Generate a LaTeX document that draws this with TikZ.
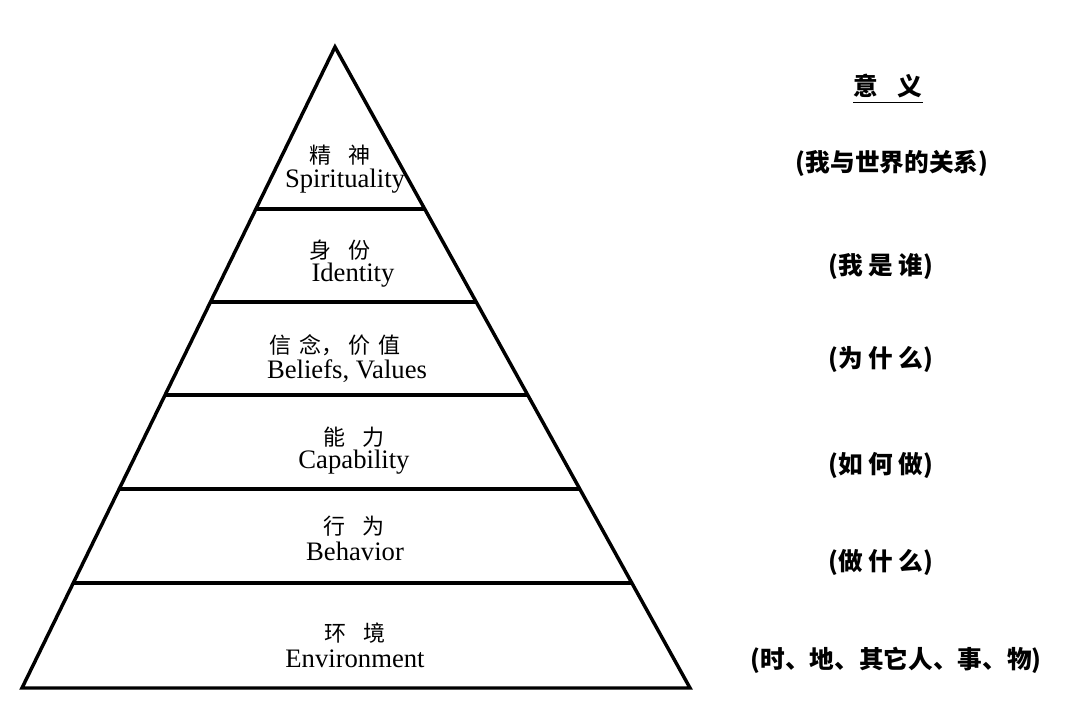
\documentclass[tikz,border=0pt]{standalone}
\usepackage{fontspec}
\setmainfont{Liberation Serif}
\newfontfamily\cjk{Noto Sans CJK SC}
\usetikzlibrary{calc}
\newcommand{\cjkgap}{\hspace{0.75em}}
\tikzset{
  pyrline/.style={line width=2.6pt, black, line join=miter},
  cnlabel/.style={inner sep=0pt, font=\cjk\fontsize{16.5}{16.5}\selectfont},
  enlabel/.style={inner sep=0pt, font=\fontsize{20}{20}\selectfont},
  meaning/.style={inner sep=0pt, font=\cjk\bfseries\fontsize{18.5}{18.5}\selectfont},
}

\begin{document}
\begin{tikzpicture}[x=0.75pt,y=-0.75pt]
\useasboundingbox (0,0) rectangle (1080,700);
\fill[white] (0,0) rectangle (1080,700);
\coordinate (apex) at (335,47);
\coordinate (bl) at (22,688);
\coordinate (br) at (690,688);
\draw[pyrline] (apex) -- (br) -- (bl) -- cycle;
\foreach \t in {0.2527,0.398,0.543,0.6895,0.836}
  \draw[pyrline] ($(apex)!\t!(bl)$) -- ($(apex)!\t!(br)$);
% layer labels
\node[cnlabel] (cn1) at (340,155) {精\cjkgap 神};
\node[enlabel] (en1) at (345,181) {Spirituality};
\node[cnlabel] (cn2) at (340,250) {身\cjkgap 份};
\node[enlabel] (en2) at (353,275) {Identity};
\node[cnlabel] (cn3) at (335,345) {信\hspace{0.4em}念，\hspace{0.2em}价\hspace{0.4em}值};
\node[enlabel] (en3) at (347,371) {Beliefs, Values};
\node[cnlabel] (cn4) at (354,437) {能\cjkgap 力};
\node[enlabel] (en4) at (354,462) {Capability};
\node[cnlabel] (cn5) at (354,526) {行\cjkgap 为};
\node[enlabel] (en5) at (355,551) {Behavior};
\node[cnlabel] (cn6) at (355,633) {环\cjkgap 境};
\node[enlabel] (en6) at (355,659) {Environment};
% meanings
\node[meaning] (head) at (888,86) {意\hspace{0.8em}义};
\draw[line width=0.9pt] (head.south west) ++(0,4) coordinate (ul) -- (ul -| head.south east);
\node[meaning] (m1) at (892,163) {(我与世界的关系)};
\node[meaning] (m2) at (881,267) {(我 是 谁)};
\node[meaning] (m3) at (881,360) {(为 什 么)};
\node[meaning] (m4) at (881,465) {(如 何 做)};
\node[meaning] (m5) at (881,562) {(做 什 么)};
\node[meaning] (m6) at (896,660) {(时、地、其它人、事、物)};
\end{tikzpicture}
\end{document}
